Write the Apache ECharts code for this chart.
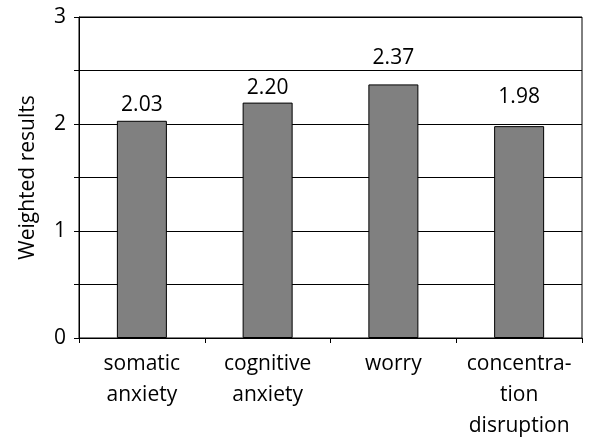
<!DOCTYPE html>
<html>
<head>
<meta charset="utf-8">
<script src="https://cdn.jsdelivr.net/npm/echarts@6/dist/echarts.min.js"></script>
<style>
html, body { margin: 0; padding: 0; background: #fff; }
#chart { width: 593px; height: 441px; }
</style>
</head>
<body>
<div id="chart"></div>
<script>
var categories = ['somatic\nanxiety', 'cognitive\nanxiety', 'worry', 'concentra-\ntion\ndisruption'];
var values = [2.03, 2.20, 2.37, 1.98];
var yTicks = [0, 1, 2, 3];

var font = 'Open Sans';
// gap between bar top and its label, as in the original
var labelGap = [5, 4, 16, 19];
var myChart = echarts.init(document.getElementById('chart'));

var option = {
	animation: false,
	grid: {
		left: 79, right: 11, top: 17, bottom: 103,
		outerBoundsMode: 'none',
		show: true, borderColor: '#000', borderWidth: 1
	},
	xAxis: {
		type: 'category',
		data: categories,
		axisLine: { lineStyle: { color: '#000', width: 1 } },
		axisTick: { show: true, length: 5, lineStyle: { color: '#000' } },
		axisLabel: {
			color: '#000', fontFamily: font, fontSize: 21,
			lineHeight: 31, margin: 11, interval: 0
		}
	},
	yAxis: {
		type: 'value',
		min: 0, max: 3, interval: 0.5,
		name: 'Weighted results',
		nameLocation: 'middle',
		nameGap: 40,
		nameTextStyle: { color: '#000', fontFamily: font, fontSize: 21 },
		axisLine: { show: true, lineStyle: { color: '#000', width: 1 } },
		axisTick: { show: true, length: 5, lineStyle: { color: '#000' } },
		axisLabel: {
			color: '#000', fontFamily: font, fontSize: 21, margin: 13,
			formatter: function (v) { return yTicks.indexOf(v) >= 0 ? String(v) : ''; }
		},
		splitLine: { show: true, lineStyle: { color: '#000', width: 1 } }
	},
	series: [{
		type: 'bar',
		barWidth: 50,
		data: values.map(function (v, i) {
			return { value: v, label: { distance: labelGap[i] } };
		}),
		itemStyle: { color: '#808080', borderColor: '#000', borderWidth: 1 },
		label: {
			show: true, position: 'top',
			color: '#000', fontFamily: font, fontSize: 21,
			formatter: function (p) { return p.value.toFixed(2); }
		}
	}]
};

myChart.setOption(option);
</script>
</body>
</html>
